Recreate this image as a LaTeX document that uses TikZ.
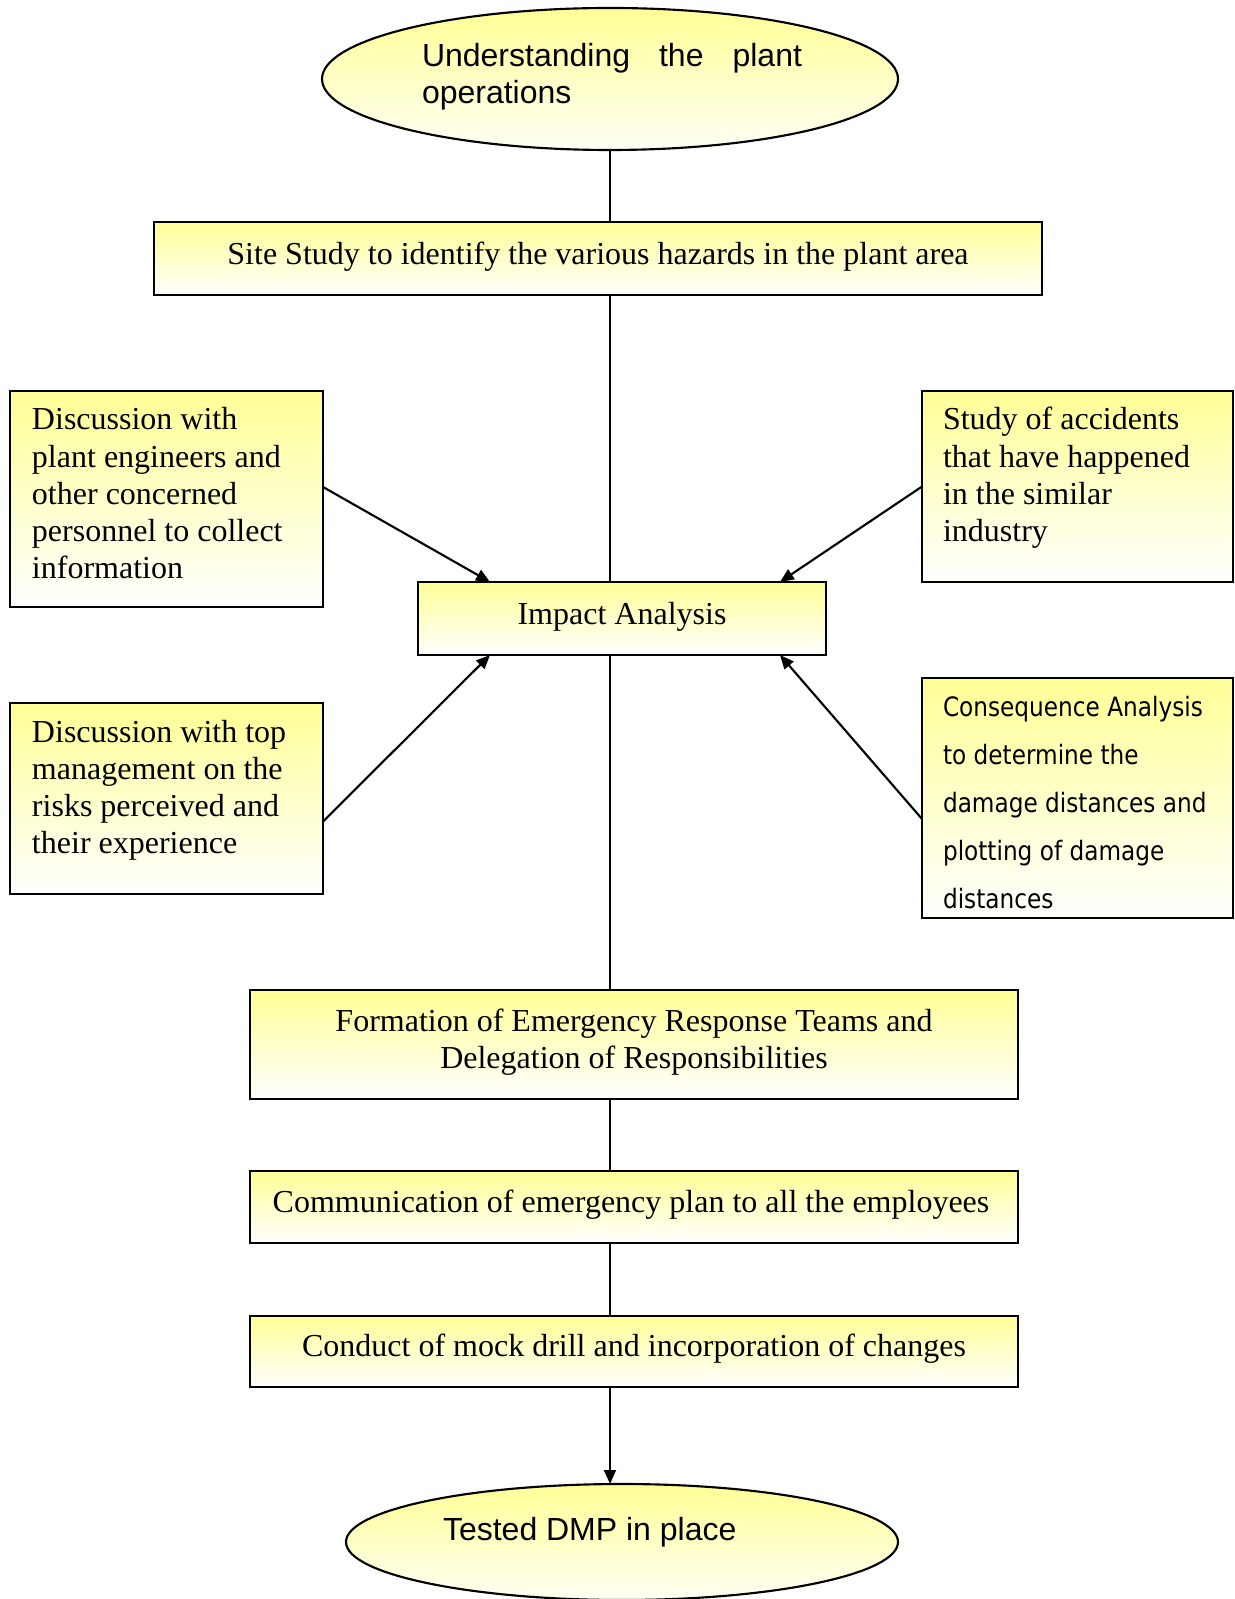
\documentclass[tikz,border=0pt]{standalone}
\usepackage{fontspec}
\setmainfont{Liberation Serif}
\newfontfamily\arialf{Liberation Sans}
\newfontfamily\tahomaf[FakeStretch=0.87]{DejaVu Sans}
\usetikzlibrary{arrows.meta,shapes.geometric,calc}
\definecolor{ytop}{RGB}{255,255,150}
\definecolor{ybot}{RGB}{255,255,245}
\begin{document}
\begin{tikzpicture}[x=0.375pt,y=-0.375pt,
  box/.style={draw=black,line width=0.8pt,rectangle,inner sep=0pt,outer sep=0pt,top color=ytop,bottom color=white,shading angle=0},
  oval/.style={draw=black,line width=0.8pt,ellipse,inner sep=0pt,outer sep=0pt,top color=ytop,bottom color=ybot},
  txt/.style={inner sep=0pt,outer sep=0pt,font=\fontsize{12}{13.9}\selectfont},
  conn/.style={line width=0.8pt,draw=black},
  arr/.style={conn,-{Triangle[length=5.2pt,width=4.4pt]}}]
\useasboundingbox (0,0) rectangle (1235,1599);
% shapes
\node[oval,minimum width=216pt,minimum height=53.25pt] (top) at (610,79) {};
\node[box,minimum width=333pt,minimum height=27.4pt] (site) at (598,258.5) {};
\node[box,minimum width=117.4pt,minimum height=81pt] (left1) at (166.5,499) {};
\node[box,minimum width=116.6pt,minimum height=71.6pt] (right1) at (1077.5,486.5) {};
\node[box,minimum width=153pt,minimum height=27.4pt] (impact) at (622,618.5) {};
\node[box,minimum width=117.4pt,minimum height=71.6pt] (left2) at (166.5,798.5) {};
\node[box,minimum width=116.6pt,minimum height=90pt] (right2) at (1077.5,798) {};
\node[box,minimum width=288pt,minimum height=40.9pt] (form) at (634,1044.5) {};
\node[box,minimum width=288pt,minimum height=27pt] (comm) at (634,1207) {};
\node[box,minimum width=288pt,minimum height=26.6pt] (mock) at (634,1351.5) {};
\node[oval,minimum width=207pt,minimum height=43.5pt] (bot) at (622,1542) {};
% texts
\node[txt,anchor=base west] (ttop) at (422,67) {\parbox[t]{142.5pt}{\arialf\fontsize{12}{13.7}\selectfont\hbox to 142.5pt{Understanding\hfill the\hfill plant}\par operations}};
\node[txt,anchor=base] (tsite) at (598,265) {Site Study to identify the various hazards in the plant area};
\node[txt,anchor=base west] (tleft1) at (32,430) {\parbox[t]{110pt}{Discussion with\\plant engineers and\\other concerned\\personnel to collect\\information}};
\node[txt,anchor=base west] (tright1) at (943,430) {\parbox[t]{110pt}{Study of accidents\\that have happened\\in the similar\\industry}};
\node[txt,anchor=base] (timpact) at (622,624) {Impact Analysis};
\node[txt,anchor=base west] (tleft2) at (32,742) {\parbox[t]{110pt}{Discussion with top\\management on the\\risks perceived and\\their experience}};
\node[txt,anchor=base west] (tright2) at (943,716) {\parbox[t]{110pt}{\tahomaf\fontsize{10}{18}\selectfont Consequence Analysis\\to determine the\\damage distances and\\plotting of damage\\distances}};
\node[txt,anchor=base] (tform) at (634,1031) {\parbox[t]{280pt}{\centering Formation of Emergency Response Teams and\\Delegation of Responsibilities}};
\node[txt,anchor=base] (tcomm) at (631,1212) {Communication of emergency plan to all the employees};
\node[txt,anchor=base] (tmock) at (634,1356) {Conduct of mock drill and incorporation of changes};
\node[txt,anchor=base west] (tbot) at (443,1540) {\arialf\fontsize{12}{13.5}\selectfont Tested DMP in place};
% connectors
\draw[conn] (top.south) -- (top.south |- site.north);
\draw[conn] (top.south |- site.south) -- (top.south |- impact.north);
\draw[conn] (top.south |- impact.south) -- (top.south |- form.north);
\draw[conn] (top.south |- form.south) -- (top.south |- comm.north);
\draw[conn] (top.south |- comm.south) -- (top.south |- mock.north);
\draw[arr] (top.south |- mock.south) -- (top.south |- bot.north);
\draw[arr] ($(left1.east)+(0,-12)$) -- ($(impact.north west)+(72,0)$);
\draw[arr] (right1.west) -- ($(impact.north east)+(-46,0)$);
\draw[arr] ($(left2.east)+(0,23)$) -- ($(impact.south west)+(72,0)$);
\draw[arr] ($(right2.west)+(0,21)$) -- ($(impact.south east)+(-46,0)$);
\end{tikzpicture}
\end{document}
